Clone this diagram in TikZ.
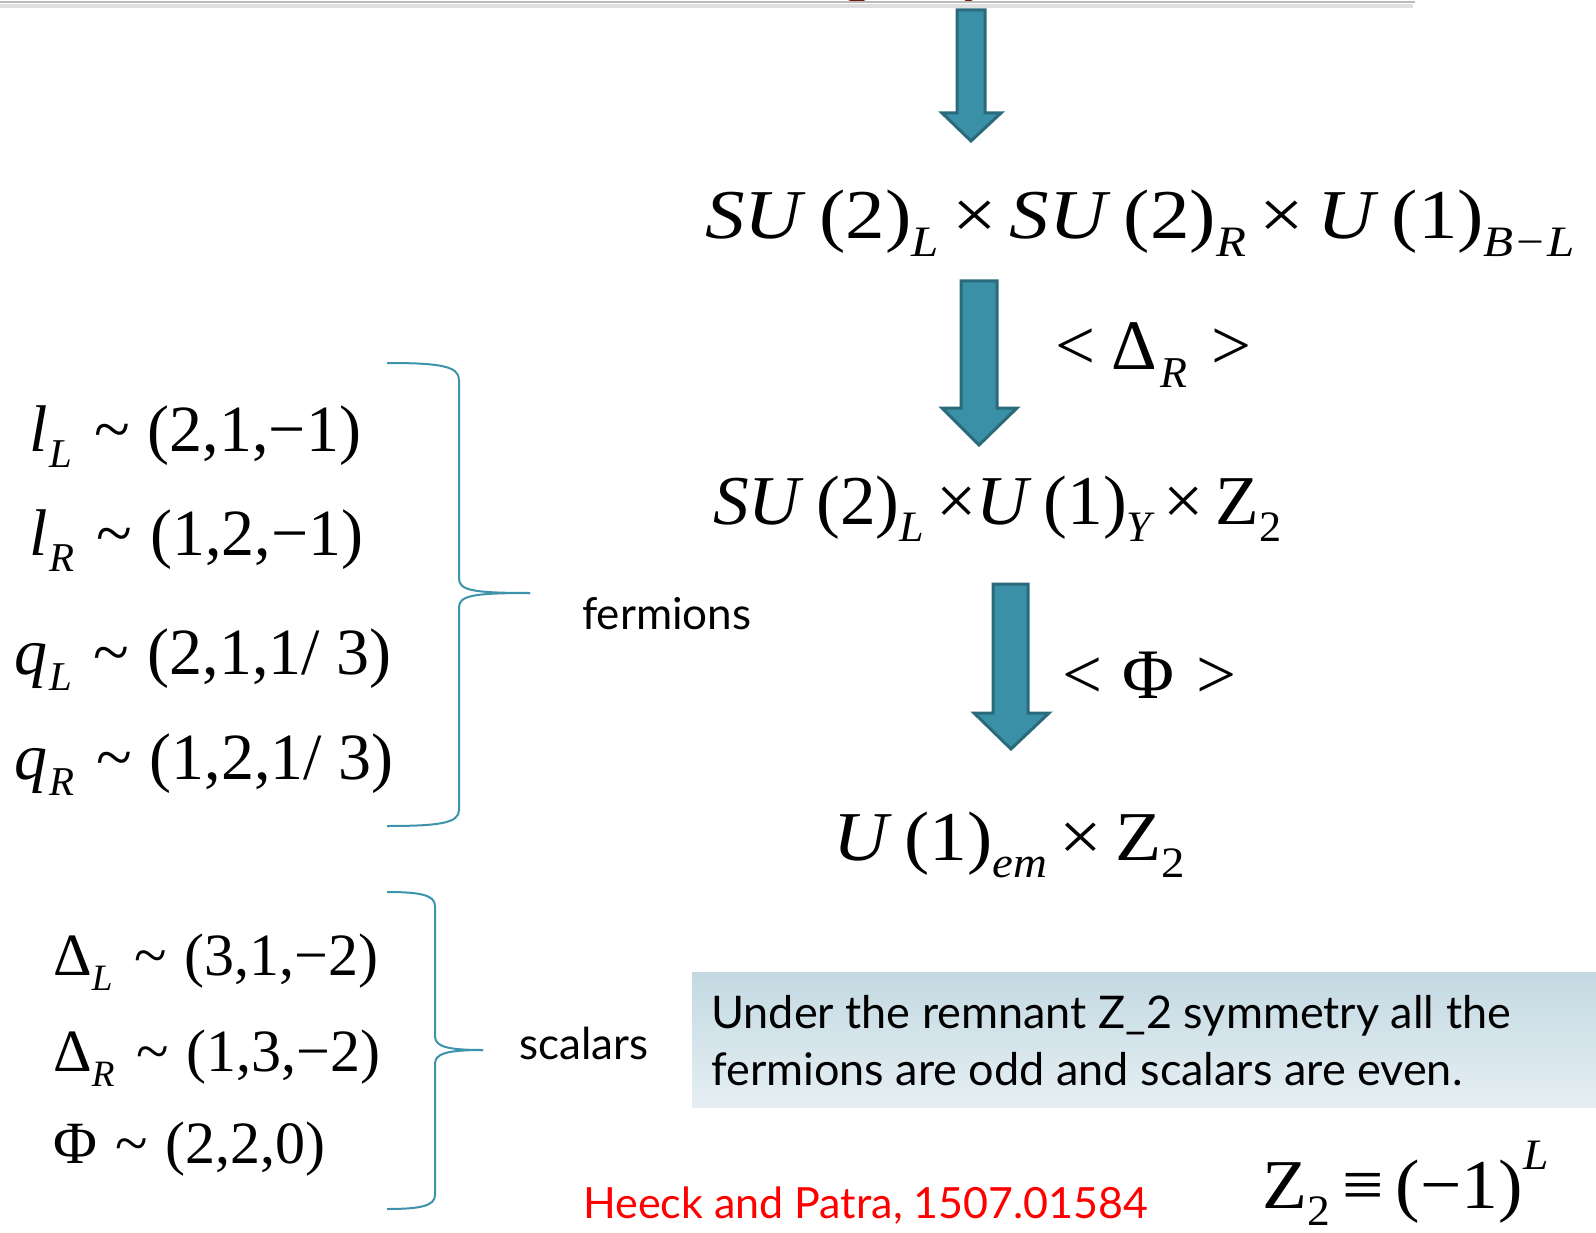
\documentclass[tikz,border=0pt]{standalone}
\usepackage{fontspec}
\usepackage{graphicx}
\setmainfont{Liberation Serif}
\newfontfamily\gillfont{Lato}
\definecolor{arrfill}{HTML}{3A90A7}
\definecolor{arredge}{HTML}{2A6A7B}
\definecolor{bracecol}{HTML}{3C93AB}
\definecolor{titlered}{HTML}{6E1A10}
\definecolor{boxtop}{HTML}{C3D9E2}
\definecolor{boxbot}{HTML}{E6EFF3}
\newcommand{\sbs}[1]{\raisebox{-0.25em}{\scalebox{0.62}{\itshape #1}}}
\newcommand{\sbu}[1]{\raisebox{-0.25em}{\scalebox{0.62}{#1}}}
\newcommand{\sps}[1]{\raisebox{0.55em}{\scalebox{0.62}{\itshape #1}}}
\newcommand{\mi}[1]{\textit{#1}}
\newcommand{\tld}{\kern22pt\textasciitilde\kern18pt}
\newcommand{\hstretch}[2]{\scalebox{#1}[1]{#2}}
\tikzset{
  eqbig/.style={inner sep=0pt, anchor=base west, font=\fontsize{70}{84}\selectfont},
  eqmid/.style={inner sep=0pt, anchor=base west, font=\fontsize{66}{80}\selectfont},
  eqsmall/.style={inner sep=0pt, anchor=base west, font=\fontsize{60}{72}\selectfont},
  sanslabel/.style={inner sep=0pt, anchor=base west, font=\gillfont\fontsize{44}{54}\selectfont},
  boxtext/.style={inner sep=0pt, anchor=base west, font=\gillfont\fontsize{45}{56}\selectfont},
  blockarrow/.style={fill=arrfill, draw=arredge, line width=3pt, line join=miter},
  bracepath/.style={draw=bracecol, line width=2pt},
}
\begin{document}
\begin{tikzpicture}[x=1pt,y=-1pt]
\useasboundingbox (0,0) rectangle (1596,1233);
\fill[white] (0,0) rectangle (1596,1233);
\begin{scope}
\clip (0,0) rectangle (1596,1233);
% title fragments and slide frame line
\node[inner sep=0pt, anchor=base west, text=titlered, font=\gillfont\bfseries\fontsize{60}{70}\selectfont] (tg) at (842,-8) {g};
\node[inner sep=0pt, anchor=base west, text=titlered, font=\gillfont\bfseries\fontsize{60}{70}\selectfont] (ty) at (958,-8) {y};
\draw[gray!25, line width=4pt] (0,6) -- (1413,6);
\draw[gray!55, line width=2pt] (0,2.5) -- (1415,2.5);
\end{scope}

% arrows
\draw[blockarrow] (957,10) -- (985,10) -- (985,113) -- (1001,113) -- (971,141) -- (942,113) -- (957,113) -- cycle;
\draw[blockarrow] (961,281) -- (997,281) -- (997,408) -- (1017,408) -- (979,445) -- (942,408) -- (961,408) -- cycle;
\draw[blockarrow] (993,584) -- (1028,584) -- (1028,713) -- (1049,713) -- (1011,749) -- (974,713) -- (993,713) -- cycle;

% symmetry chain
\node[eqbig] (lr) at (705,239) {\hstretch{1.13}{\mi{SU}\,(2)\sbs{L}\,×\,\mi{SU}\,(2)\sbs{R}\,×\,\mi{U}\,(1)\sbs{B−L}}};
\node[eqbig, font=\fontsize{71}{84}\selectfont] (vevR) at (1055,370) {<\kern16pt Δ\kern4pt\sbs{R}\kern24pt >};
\node[eqbig] (sm) at (713,524) {\hstretch{1.02}{\mi{SU}\,(2)\sbs{L}\,×\mi{U}\,(1)\sbs{Y}\,×\,Z\sbu{2}}};
\node[eqbig, font=\fontsize{71}{84}\selectfont] (vevPhi) at (1062,698) {<\kern20pt Φ\kern22pt >};
\node[eqbig] (em) at (833,860) {\hstretch{1.08}{\mi{U}\,(1)\sbs{em}\,×\,Z\sbu{2}}};

% fermions
\node[eqmid] (lL) at (29,451) {\mi{l}\kern2pt\sbs{L}\tld(2,1,−1)};
\node[eqmid] (lR) at (29,555) {\mi{l}\kern2pt\sbs{R}\tld(1,2,−1)};
\node[eqmid] (qL) at (14,674) {\mi{q}\kern2pt\sbs{L}\tld(2,1,1/ 3)};
\node[eqmid] (qR) at (14,779) {\mi{q}\kern2pt\sbs{R}\tld(1,2,1/ 3)};
\coordinate (btip1) at (530,593);
\draw[bracepath] (387,363) .. controls (440,363) and (459,366) .. (459,380) -- (459,578) .. controls (459,590) and (470,593) .. (btip1);
\draw[bracepath] (387,826) .. controls (440,826) and (459,823) .. (459,810) -- (459,608) .. controls (459,596) and (470,593) .. (btip1);
\node[sanslabel] (ferm) at (582,629) {fermions};

% scalars
\node[eqsmall] (DL) at (53,975) {Δ\sbs{L}\tld(3,1,−2)};
\node[eqsmall] (DR) at (53,1071) {Δ\sbs{R}\tld(1,3,−2)};
\node[eqsmall] (Phi) at (53,1163) {Φ\kern-4pt\tld(2,2,0)};
\coordinate (btip2) at (483,1050);
\draw[bracepath] (387,892) .. controls (420,892) and (435,895) .. (435,906) -- (435,1036) .. controls (435,1046) and (445,1050) .. (btip2);
\draw[bracepath] (387,1209) .. controls (420,1209) and (435,1206) .. (435,1195) -- (435,1064) .. controls (435,1054) and (445,1050) .. (btip2);
\node[sanslabel] (scal) at (519,1059) {scalars};

% note box
\shade[top color=boxtop, bottom color=boxbot] (692,972) rectangle (1596,1107);
\node[boxtext] (note1) at (711,1028) {Under the remnant Z\_2 symmetry all the};
\node[boxtext] (note2) at (711,1085) {fermions are odd and scalars are even.};

% citation and parity
\node[inner sep=0pt, anchor=base west, text=red, font=\gillfont\fontsize{43}{52}\selectfont] (cite) at (583,1218) {Heeck and Patra, 1507.01584};
\node[eqbig] (z2) at (1262,1208) {\hstretch{1.05}{Z\sbu{2}\,≡\,(−1)\sps{L}}};
\end{tikzpicture}
\end{document}
